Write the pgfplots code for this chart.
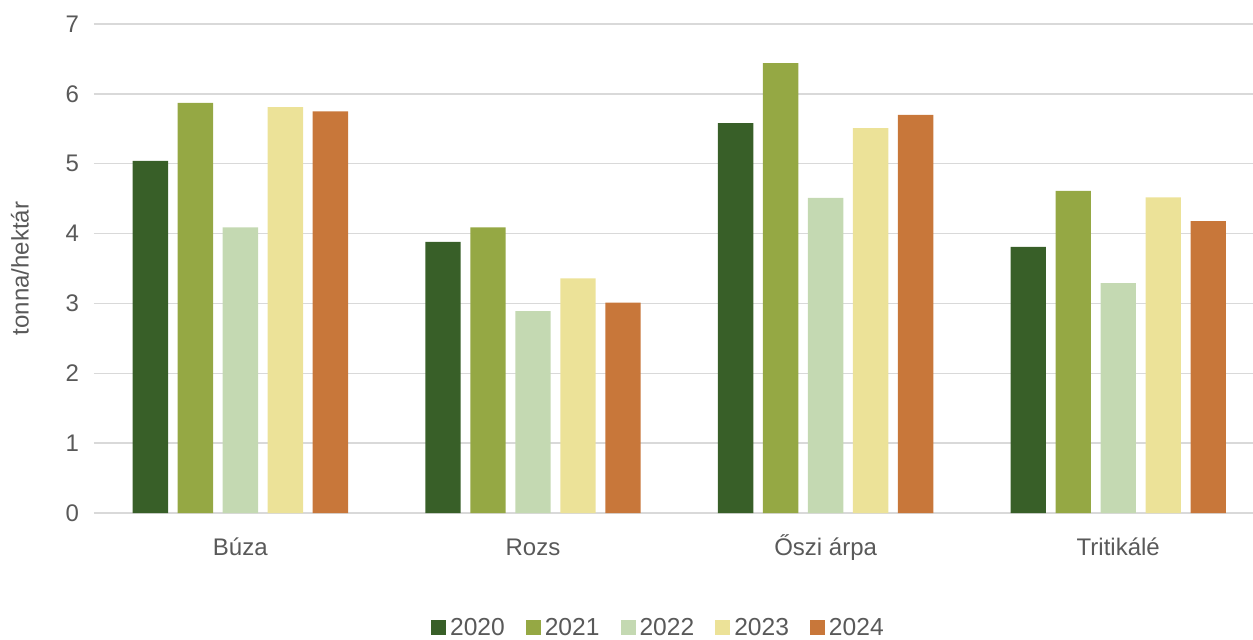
\documentclass[border=0pt]{standalone}
\usepackage{pgfplots}
\pgfplotsset{compat=1.18}
\usepackage{fontspec}
\setmainfont{Liberation Sans}
\definecolor{c2020}{HTML}{385F28}
\definecolor{c2021}{HTML}{95A844}
\definecolor{c2022}{HTML}{C4D9B2}
\definecolor{c2023}{HTML}{ECE298}
\definecolor{c2024}{HTML}{C8773A}
\definecolor{txt}{HTML}{595959}
\definecolor{gridc}{HTML}{D9D9D9}

\begin{document}
\begin{tikzpicture}
\path[use as bounding box] (-47pt,-63pt) rectangle (579.5pt,256.5pt);
\begin{axis}[
    at={(0,0)}, anchor=south west,
    scale only axis, width=585.3pt, height=244.5pt,
    ymin=0, ymax=7, ytick={0,1,...,7},
    xmin=-0.5, xmax=3.5, xtick={0,1,2,3},
    xticklabels={Búza,Rozs,Őszi árpa,Tritikálé},
    ybar, bar width=17.7pt,
    major tick length=0pt,
    axis x line*=bottom,
    axis y line*=left,
    x axis line style={draw=gridc, line width=0.75pt, -},
    y axis line style={draw=none},
    ymajorgrids, grid style={draw=gridc, line width=0.75pt},
    tick label style={font=\fontsize{12}{14}\selectfont, text=txt},
    yticklabel style={xshift=-4pt},
    xticklabel style={anchor=base, yshift=-21pt},
    /pgf/number format/assume math mode=true,
    ylabel={tonna/hektár},
    ylabel style={at={(axis description cs:-0.0632,0.5)}, anchor=center,
        font=\fontsize{12}{14}\selectfont, text=txt},
    legend style={draw=none, fill=none, legend columns=5,
        at={(axis description cs:0.483,-0.235)}, anchor=center,
        font=\fontsize{12.3}{14}\selectfont, text=txt,
        /tikz/every even column/.append style={column sep=8.5pt}},
    legend image code/.code={\fill[#1] (0pt,-3.75pt) rectangle (7.5pt,3.75pt);},
]
\addplot[fill=c2020, draw=none, bar shift=-45pt] coordinates {(0,5.04) (1,3.88) (2,5.58) (3,3.81)};
\addlegendentry{2020}
\addplot[fill=c2021, draw=none, bar shift=-22.5pt] coordinates {(0,5.87) (1,4.09) (2,6.44) (3,4.61)};
\addlegendentry{2021}
\addplot[fill=c2022, draw=none, bar shift=0pt] coordinates {(0,4.09) (1,2.89) (2,4.51) (3,3.29)};
\addlegendentry{2022}
\addplot[fill=c2023, draw=none, bar shift=22.5pt] coordinates {(0,5.81) (1,3.36) (2,5.51) (3,4.52)};
\addlegendentry{2023}
\addplot[fill=c2024, draw=none, bar shift=45pt] coordinates {(0,5.75) (1,3.01) (2,5.70) (3,4.18)};
\addlegendentry{2024}
\end{axis}
\end{tikzpicture}
\end{document}
